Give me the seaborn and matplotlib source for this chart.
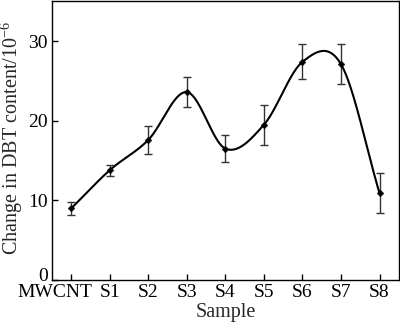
import numpy as np
import pandas as pd
import matplotlib
matplotlib.use("Agg")
import matplotlib.pyplot as plt
import matplotlib.transforms as mtransforms
import seaborn as sns

samples = ["MWCNT", "S1", "S2", "S3", "S4", "S5", "S6", "S7", "S8"]
values = [9.0, 13.8, 17.6, 23.6, 16.5, 19.5, 27.4, 27.1, 10.9]
errors = [0.8, 0.7, 1.8, 1.85, 1.65, 2.5, 2.2, 2.5, 2.5]
y_ticks = [0, 10, 20, 30]

sns.set_theme(style="ticks")
plt.rcParams["font.family"] = ["Liberation Serif", "DejaVu Serif"]
plt.rcParams["mathtext.fontset"] = "stix"

def catmull_rom(x, y, per=60):
    x = np.asarray(x, float); y = np.asarray(y, float)
    m = len(x)
    t = np.empty(m)
    t[1:-1] = (y[2:] - y[:-2]) / (x[2:] - x[:-2])
    t[0] = (y[1] - y[0]) / (x[1] - x[0])
    t[-1] = (y[-1] - y[-2]) / (x[-1] - x[-2])
    xs_all, ys_all = [], []
    for i in range(m - 1):
        h = x[i + 1] - x[i]
        s = np.linspace(0, 1, per, endpoint=(i == m - 2))
        h00 = 2 * s**3 - 3 * s**2 + 1
        h10 = s**3 - 2 * s**2 + s
        h01 = -2 * s**3 + 3 * s**2
        h11 = s**3 - s**2
        xs_all.append(x[i] + s * h)
        ys_all.append(h00 * y[i] + h10 * h * t[i] + h01 * y[i + 1] + h11 * h * t[i + 1])
    return np.concatenate(xs_all), np.concatenate(ys_all)

pos = np.arange(len(samples))
xs, ys = catmull_rom(pos, values)
curve = pd.DataFrame({"x": xs, "y": ys})
pts = pd.DataFrame({"x": pos, "y": values})

fig = plt.figure(figsize=(4.0, 3.26), dpi=100)
ax = fig.add_axes([0.13, 0.141, 0.867, 0.855])
sns.lineplot(data=curve, x="x", y="y", ax=ax, color="black", linewidth=1.5)
ax.errorbar(pos, values, yerr=errors, fmt="none", ecolor="#333333",
            elinewidth=1.0, capsize=3.2, capthick=1.0)
sns.scatterplot(data=pts, x="x", y="y", ax=ax, color="black", marker="D",
                s=12, edgecolor="black", zorder=5)

ax.set_xlim(-0.5, len(samples) - 0.5)
ax.set_ylim(0, 35)
ax.set_xticks(pos)
ax.set_xticklabels(samples)
ax.set_yticks(y_ticks)
ax.tick_params(direction="in", length=4, width=1, labelsize=14, colors="black", pad=3)
first = ax.get_xticklabels()[0]
first.set_transform(first.get_transform() +
                    mtransforms.ScaledTranslation(-16 / 100, 0, fig.dpi_scale_trans))
zero = ax.get_yticklabels()[0]
zero.set_transform(zero.get_transform() +
                   mtransforms.ScaledTranslation(0, 6 / 100, fig.dpi_scale_trans))
ax.set_xlabel("Sample", fontsize=14.5, labelpad=1)
ax.set_ylabel(r"Change in DBT content/10$^{\mathregular{-6}}$", fontsize=14.5)
ax.yaxis.set_label_coords(-0.077, 0.51)
for s in ax.spines.values():
    s.set_linewidth(1.0); s.set_color("black")
fig.savefig("out.png", dpi=100)
